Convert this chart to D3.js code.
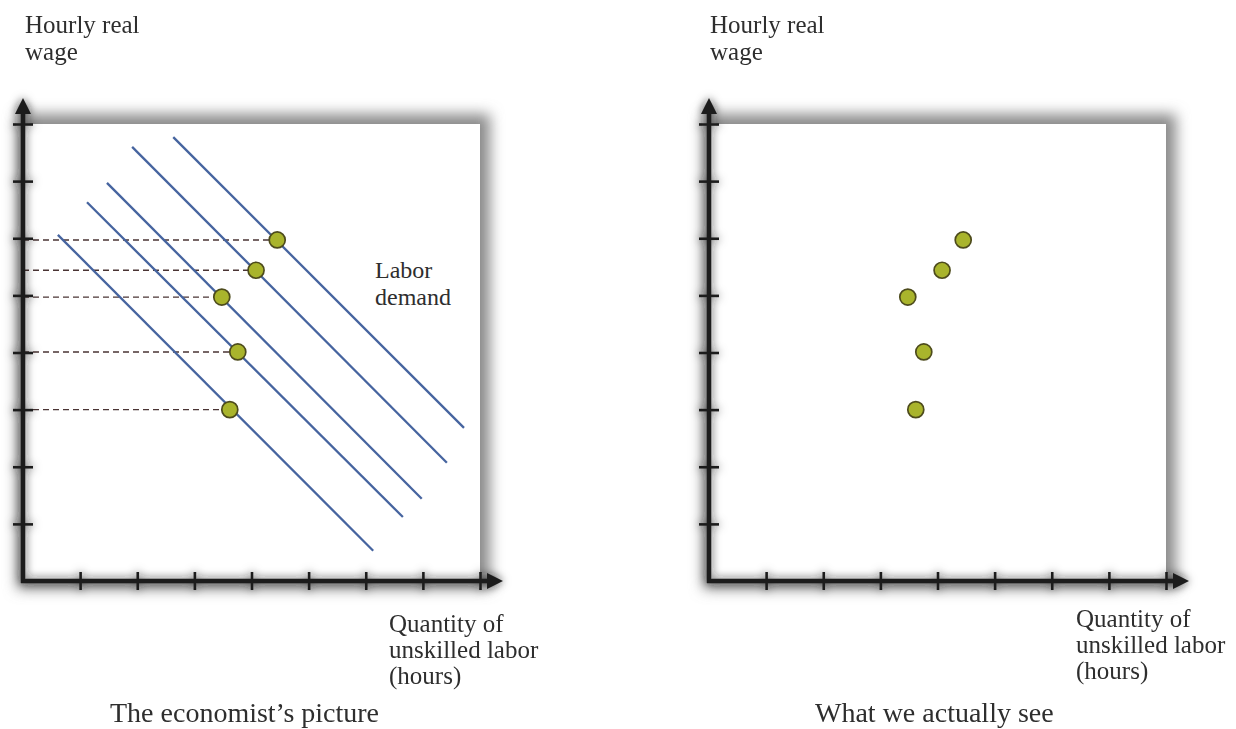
<!DOCTYPE html>
<html>
<head>
<meta charset="utf-8">
<script src="https://cdn.jsdelivr.net/npm/d3@7"></script>
<style>
  html, body { margin: 0; padding: 0; background: #fff; }
  svg { display: block; }
  text { font-family: "Liberation Serif", "Times New Roman", serif; fill: #2e2e2e; }
</style>
</head>
<body>
<svg id="chart" width="1236" height="729"></svg>
<script>
// ---- data (axis units 0..8) ----
const tickValues = [1, 2, 3, 4, 5, 6, 7, 8];
const obsQuantity = [3.62, 3.76, 3.48, 4.08, 4.45];
const obsWage = [3.0, 4.01, 4.97, 5.44, 5.97];
// labor demand lines: start and end points
const demandStartX = [0.61, 1.12, 1.47, 1.91, 2.63];
const demandStartY = [6.06, 6.63, 6.97, 7.60, 7.77];
const demandEndX = [6.13, 6.65, 6.98, 7.42, 7.72];
const demandEndY = [0.53, 1.12, 1.44, 2.07, 2.68];
const yAxisTitle = ["Hourly real", "wage"];
const xAxisTitle = ["Quantity of", "unskilled labor", "(hours)"];
const demandLabel = ["Labor", "demand"];
const captions = ["The economist\u2019s picture", "What we actually see"];

const svg = d3.select("#chart");
const size = 457;
const x = d3.scaleLinear().domain([0, 8]).range([0, size]);
const y = d3.scaleLinear().domain([0, 8]).range([size, 0]);

const defs = svg.append("defs");
const f = defs.append("filter").attr("id", "shadow")
  .attr("x", "-20%").attr("y", "-20%").attr("width", "140%").attr("height", "140%");
f.append("feDropShadow").attr("dx", 0).attr("dy", 0).attr("stdDeviation", 5)
  .attr("flood-color", "#1a1a1a").attr("flood-opacity", 0.8);
const blur = defs.append("filter").attr("id", "blur")
  .attr("x", "-20%").attr("y", "-20%").attr("width", "140%").attr("height", "140%");
blur.append("feGaussianBlur").attr("stdDeviation", 7);

const lineColor = "#46649f";
const dotFill = "#a9b42c";
const dotStroke = "#4d4b1c";

function panel(ox, oy, showLines, xTitlePos, captionPos, titleX) {
  const g = svg.append("g").attr("transform", `translate(${ox},${oy})`);

  // soft shadow behind the plot box
  g.append("rect").attr("x", -6).attr("y", -10).attr("width", size + 16).attr("height", size + 18)
    .attr("fill", "#8a8a8a").attr("filter", "url(#blur)");
  g.append("rect").attr("x", 0).attr("y", 0).attr("width", size).attr("height", size)
    .attr("fill", "#fff");

  if (showLines) {
    // dashed guides
    g.selectAll(".guide").data(obsWage).join("line")
      .attr("x1", 0).attr("x2", (d, i) => x(obsQuantity[i]))
      .attr("y1", d => y(d)).attr("y2", d => y(d))
      .attr("stroke", "#4a3434").attr("stroke-width", 1.4)
      .attr("stroke-dasharray", "6,4");
    // demand lines
    g.selectAll(".demand").data(demandStartX).join("line")
      .attr("x1", d => x(d)).attr("y1", (d, i) => y(demandStartY[i]))
      .attr("x2", (d, i) => x(demandEndX[i])).attr("y2", (d, i) => y(demandEndY[i]))
      .attr("stroke", lineColor).attr("stroke-width", 2.3);
    g.selectAll(".dl").data(demandLabel).join("text")
      .attr("x", 352).attr("y", (d, i) => 154 + i * 27)
      .attr("font-size", 24).text(d => d);
  }

  // points
  g.selectAll(".pt").data(obsQuantity).join("circle")
    .attr("cx", d => x(d)).attr("cy", (d, i) => y(obsWage[i]))
    .attr("r", 8).attr("fill", dotFill).attr("stroke", dotStroke).attr("stroke-width", 1.7);

  // axes
  const axG = g.append("g").attr("filter", "url(#shadow)");
  const xAx = axG.append("g").attr("transform", `translate(0,${size})`)
    .call(d3.axisBottom(x).tickValues(tickValues).tickFormat("").tickSizeOuter(0));
  xAx.select(".domain").remove();
  xAx.selectAll(".tick line").attr("y1", -9).attr("y2", 9)
    .attr("stroke", "#1c1c1c").attr("stroke-width", 2.6);
  const yAx = axG.append("g")
    .call(d3.axisLeft(y).tickValues(tickValues).tickFormat("").tickSizeOuter(0));
  yAx.select(".domain").remove();
  yAx.selectAll(".tick line").attr("x1", -10).attr("x2", 10)
    .attr("stroke", "#1c1c1c").attr("stroke-width", 2.6);

  axG.append("line").attr("x1", -2).attr("x2", size + 12).attr("y1", size).attr("y2", size)
    .attr("stroke", "#1c1c1c").attr("stroke-width", 4.5);
  axG.append("line").attr("x1", 0).attr("x2", 0).attr("y1", size + 2).attr("y2", -12)
    .attr("stroke", "#1c1c1c").attr("stroke-width", 4.5);
  axG.append("path").attr("d", `M${size + 23},${size} L${size + 7},${size - 8} L${size + 7},${size + 8} Z`)
    .attr("fill", "#1c1c1c");
  axG.append("path").attr("d", `M0,-26 L-8,-10 L8,-10 Z`).attr("fill", "#1c1c1c");

  // titles
  svg.selectAll(null).data(yAxisTitle).join("text")
    .attr("x", titleX).attr("y", (d, i) => 33 + i * 27)
    .attr("font-size", 25).text(d => d);
  svg.selectAll(null).data(xAxisTitle).join("text")
    .attr("x", xTitlePos[0]).attr("y", (d, i) => xTitlePos[1] + i * 26)
    .attr("font-size", 25).text(d => d);
  svg.append("text").attr("x", captionPos[0]).attr("y", captionPos[1])
    .attr("font-size", 28).text(captionPos[2]);
}

panel(23, 124, true, [389, 632], [110, 722, captions[0]], 25);
panel(709, 124, false, [1076, 627], [815, 722, captions[1]], 710);
</script>
</body>
</html>
